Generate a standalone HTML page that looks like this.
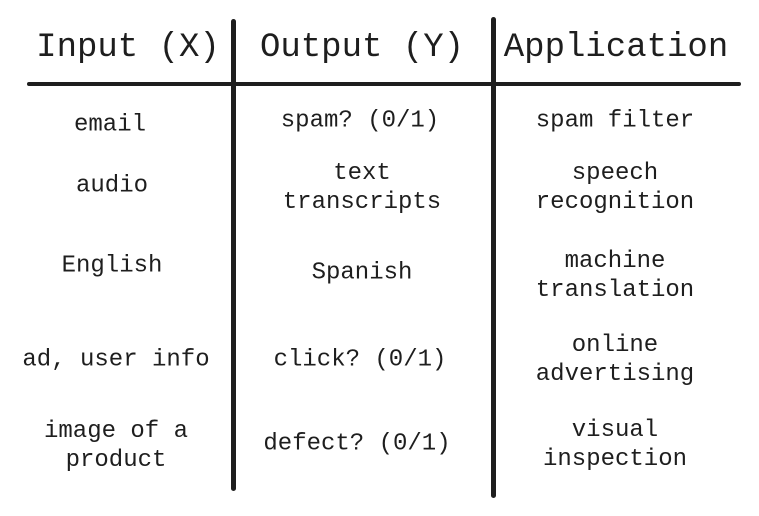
<!DOCTYPE html>
<html><head><style>
body{margin:0;width:759px;height:516px;background:#fff;position:relative;overflow:hidden;font-family:"Liberation Mono",monospace;color:#1e1e1e}
.t{position:absolute;text-align:center;white-space:pre;font-size:24px;line-height:29px;transform:translate(-50%,-50%)}
.h{font-size:34px;line-height:40px}
.l{position:absolute;background:#1e1e1e;border-radius:3px}
</style></head><body>
<div class="l" style="left:27px;top:82px;width:714px;height:4px"></div>
<div class="l" style="left:231px;top:19px;width:5px;height:472px"></div>
<div class="l" style="left:491px;top:17px;width:5px;height:481px"></div>
<div class="t h" style="left:128px;top:48px">Input (X)</div>
<div class="t h" style="left:362px;top:48px">Output (Y)</div>
<div class="t h" style="left:616px;top:48px">Application</div>

<div class="t" style="left:110px;top:125px">email</div>
<div class="t" style="left:360px;top:121px">spam? (0/1)</div>
<div class="t" style="left:615px;top:121px">spam filter</div>

<div class="t" style="left:112px;top:186px">audio</div>
<div class="t" style="left:362px;top:188px">text
transcripts</div>
<div class="t" style="left:615px;top:188px">speech
recognition</div>

<div class="t" style="left:112px;top:266px">English</div>
<div class="t" style="left:362px;top:273px">Spanish</div>
<div class="t" style="left:615px;top:276px">machine
translation</div>

<div class="t" style="left:116px;top:360px">ad, user info</div>
<div class="t" style="left:360px;top:360px">click? (0/1)</div>
<div class="t" style="left:615px;top:360px">online
advertising</div>

<div class="t" style="left:116px;top:446px">image of a
product</div>
<div class="t" style="left:357px;top:444px">defect? (0/1)</div>
<div class="t" style="left:615px;top:445px">visual
inspection</div>
</body></html>
